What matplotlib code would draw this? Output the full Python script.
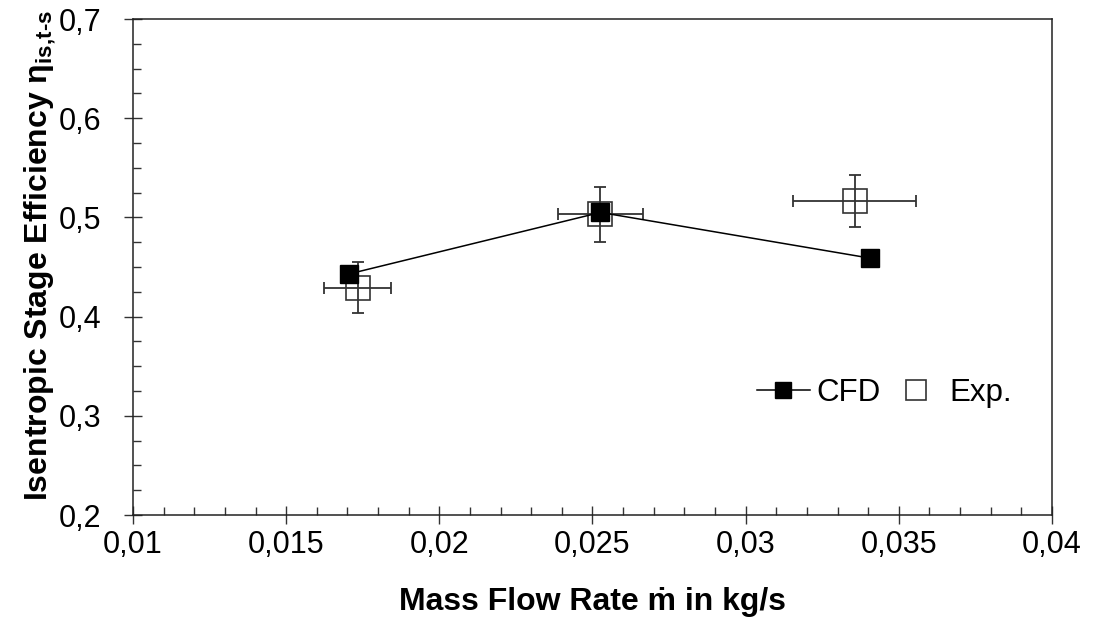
import matplotlib.pyplot as plt
from matplotlib.ticker import MultipleLocator, FuncFormatter
from matplotlib.lines import Line2D

plt.rcParams['font.family'] = ['Liberation Sans', 'DejaVu Sans']
plt.rcParams['mathtext.fontset'] = 'custom'
plt.rcParams['mathtext.rm'] = 'Liberation Sans:bold'
plt.rcParams['mathtext.it'] = 'Liberation Sans:bold'
plt.rcParams['mathtext.bf'] = 'Liberation Sans:bold'

# CFD results
cfd_mdot = [0.01705, 0.02526, 0.03405]
cfd_eta = [0.443, 0.505, 0.459]

# experiment with uncertainties
exp_mdot = [0.01733, 0.02526, 0.03356]
exp_eta = [0.429, 0.503, 0.5165]
exp_mdot_err = [0.0011, 0.0014, 0.0020]
exp_eta_err = [0.0257, 0.0278, 0.0263]

x_ticks = [0.01, 0.015, 0.02, 0.025, 0.03, 0.035, 0.04]
y_ticks = [0.2, 0.3, 0.4, 0.5, 0.6, 0.7]


def comma_fmt(v, pos):
    s = f"{v:.3f}".rstrip('0').rstrip('.')
    return s.replace('.', ',')


fig = plt.figure(figsize=(10.98, 6.17), dpi=100)
ax = fig.add_axes([0.1211, 0.1653, 0.8370, 0.8039])

# experiment: open squares with error bars
ax.errorbar(exp_mdot, exp_eta, xerr=exp_mdot_err, yerr=exp_eta_err,
            fmt='none', ecolor='#333333', elinewidth=1.3, capsize=4.5,
            capthick=1.3, zorder=2)
ax.plot(exp_mdot, exp_eta, 's', ms=17, mfc='none', mec='#333333', mew=1.2,
        zorder=3)

# CFD: filled squares joined by a line
ax.plot(cfd_mdot, cfd_eta, '-s', color='black', lw=1.1, ms=13, mfc='black',
        mec='black', zorder=4)

ax.set_xlim(0.01, 0.04)
ax.set_ylim(0.2, 0.7)
ax.set_xticks(x_ticks)
ax.set_yticks(y_ticks)
ax.xaxis.set_minor_locator(MultipleLocator(0.001))
ax.yaxis.set_minor_locator(MultipleLocator(0.025))
ax.xaxis.set_major_formatter(FuncFormatter(comma_fmt))
ax.yaxis.set_major_formatter(FuncFormatter(comma_fmt))

ax.tick_params(which='major', direction='inout', length=13, width=1,
               color='#333333', labelsize=22)
ax.tick_params(which='minor', direction='in', length=6, width=1,
               color='#333333')
ax.tick_params(axis='y', which='major', pad=16)
ax.tick_params(axis='x', which='major', pad=4)
for sp in ax.spines.values():
    sp.set_color('#222222')
    sp.set_linewidth(1.1)

ax.set_xlabel('Mass Flow Rate ṁ in kg/s', fontsize=23, fontweight='bold')
ax.set_ylabel(r'Isentropic Stage Efficiency η$_{\text{is,t-s}}$',
              fontsize=23, fontweight='bold')
ax.xaxis.set_label_coords(0.5, -0.145)
ax.yaxis.set_label_coords(-0.082, 0.524)

handles = [
    Line2D([], [], color='black', lw=1.1, marker='s', ms=12, mfc='black'),
    Line2D([], [], ls='none', marker='s', ms=14, mfc='none', mec='#333333',
           mew=1.2),
]
ax.legend(handles, ['CFD', 'Exp.'], ncol=2, frameon=False, fontsize=22.5,
          loc='center left', bbox_to_anchor=(0.665, 0.246),
          handlelength=1.7, handletextpad=0.2, columnspacing=0.3,
          borderaxespad=0)

fig.savefig('out.png', dpi=100)
